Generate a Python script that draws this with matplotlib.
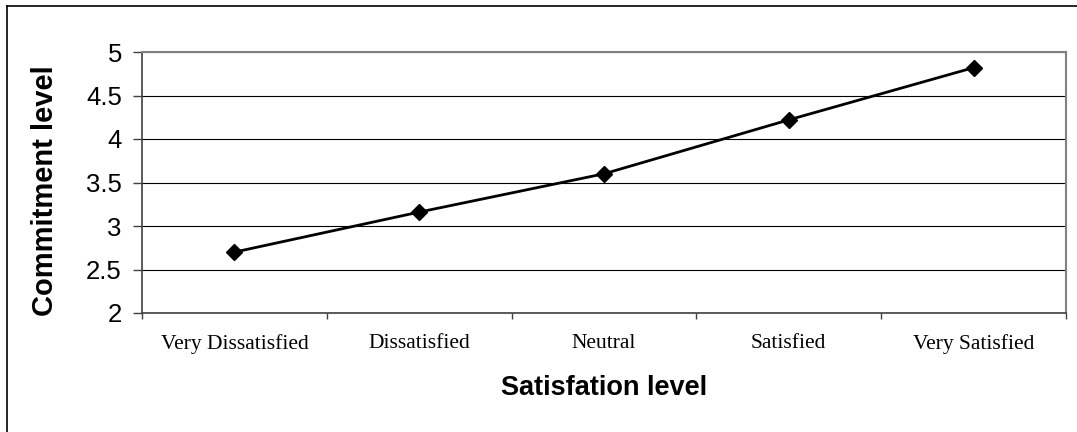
import matplotlib.pyplot as plt
from matplotlib.lines import Line2D

categories = ['Very Dissatisfied', 'Dissatisfied', 'Neutral', 'Satisfied', 'Very Satisfied']
commitment = [2.70, 3.16, 3.60, 4.22, 4.82]
yticks = [2, 2.5, 3, 3.5, 4, 4.5, 5]
ytick_labels = ['2', '2.5', '3', '3.5', '4', '4.5', '5']

W, H = 1077, 432
fig = plt.figure(figsize=(W / 100, H / 100), dpi=100)
# plot area in pixels: left 142, right 1066, top 52, bottom 313
ax = fig.add_axes([142 / W, 1 - 313 / H, (1066 - 142) / W, (313 - 52) / H])

x = list(range(len(categories)))
ax.plot(x, commitment, color='black', lw=2, marker='D', ms=8.5, zorder=3)

ax.set_xlim(-0.5, len(categories) - 0.5)
ax.set_ylim(2, 5)
ax.set_yticks(yticks)
ax.set_yticklabels(ytick_labels, fontfamily='Liberation Sans', fontsize=18.5)
ax.yaxis.grid(True, color='black', lw=0.8)
ax.set_axisbelow(True)
ax.tick_params(axis='y', length=6.5, width=1, color='#404040', pad=8)

# category labels centred, ticks on the boundaries
ax.set_xticks([i - 0.5 for i in range(len(categories) + 1)])
ax.set_xticklabels([])
ax.set_xticks(x, minor=True)
ax.set_xticklabels(categories, minor=True, fontfamily='Liberation Serif', fontsize=15.5)
ax.tick_params(axis='x', which='major', length=4.5, width=1, color='#404040')
ax.tick_params(axis='x', which='minor', length=0, pad=15)

for s in ['top', 'right']:
    ax.spines[s].set_color('#808080')
    ax.spines[s].set_linewidth(1.5)
for s in ['left', 'bottom']:
    ax.spines[s].set_color('#404040')
    ax.spines[s].set_linewidth(1.2)

fig.text(45 / W, 1 - 191 / H, 'Commitment level', rotation=90, ha='center', va='center',
         fontfamily='Liberation Sans', fontweight='bold', fontsize=21)
fig.text(604 / W, 1 - 388 / H, 'Satisfation level', ha='center', va='center',
         fontfamily='Liberation Sans', fontweight='bold', fontsize=19.5)

# outer chart frame (left and top edges visible)
fig.add_artist(Line2D([7 / W, 7 / W], [0, 1 - 6 / H], color='black', lw=1.2, transform=fig.transFigure))
fig.add_artist(Line2D([7 / W, 1], [1 - 6 / H, 1 - 6 / H], color='black', lw=1.2, transform=fig.transFigure))

fig.savefig('out.png', dpi=100)
